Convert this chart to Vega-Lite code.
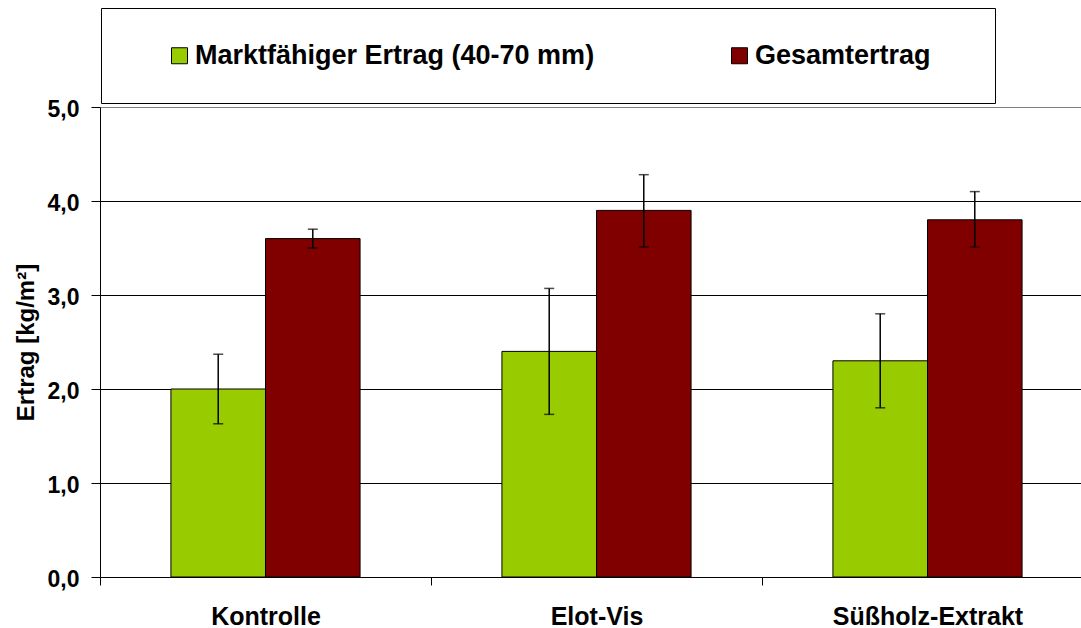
{
  "$schema": "https://vega.github.io/schema/vega-lite/v6.json",
  "width": 981,
  "height": 470,
  "autosize": {"type": "none"},
  "padding": {"left": 100, "top": 107, "right": 0, "bottom": 51},
  "background": "white",
  "config": {
    "font": "Liberation Sans",
    "view": {"stroke": null},
    "legend": {
      "orient": "none",
      "legendX": 1,
      "legendY": -99,
      "direction": "horizontal",
      "titleOrient": "right",
      "titlePadding": 29.5,
      "titleFontSize": 27,
      "padding": 34,
      "strokeColor": "black",
      "strokeWidth": 1,
      "fillColor": "white",
      "symbolType": "square",
      "symbolSize": 256,
      "symbolStrokeColor": "black",
      "symbolStrokeWidth": 1,
      "symbolOffset": 31,
      "labelFont": "Liberation Sans",
      "labelFontWeight": "bold",
      "labelFontSize": 27,
      "labelColor": "black",
      "labelOffset": 2,
      "columnPadding": 100,
      "labelLimit": 700,
      "symbolOpacity": 1
    }
  },
  "data": {
    "values": [
      {"cat": "Kontrolle", "series": "Marktfähiger Ertrag (40-70 mm)", "value": 2.0, "lo": 1.63, "hi": 2.37},
      {"cat": "Kontrolle", "series": "Gesamtertrag", "value": 3.6, "lo": 3.50, "hi": 3.70},
      {"cat": "Elot-Vis", "series": "Marktfähiger Ertrag (40-70 mm)", "value": 2.4, "lo": 1.73, "hi": 3.07},
      {"cat": "Elot-Vis", "series": "Gesamtertrag", "value": 3.9, "lo": 3.51, "hi": 4.28},
      {"cat": "Süßholz-Extrakt", "series": "Marktfähiger Ertrag (40-70 mm)", "value": 2.3, "lo": 1.80, "hi": 2.80},
      {"cat": "Süßholz-Extrakt", "series": "Gesamtertrag", "value": 3.8, "lo": 3.51, "hi": 4.10}
    ]
  },
  "encoding": {
    "x": {
      "field": "cat",
      "type": "nominal",
      "sort": ["Kontrolle", "Elot-Vis", "Süßholz-Extrakt"],
      "scale": {"range": [0, 993], "paddingInner": 0, "paddingOuter": 0},
      "axis": {
        "title": null,
        "tickBand": "extent",
        "tickSize": 8,
        "tickColor": "black",
        "domainColor": "black",
        "labelFontSize": 25,
        "labelFontWeight": "bold",
        "labelColor": "black",
        "labelPadding": 19,
        "labelLimit": 500,
        "labelAngle": 0,
        "grid": false
      }
    },
    "xOffset": {
      "field": "series",
      "type": "nominal",
      "sort": ["Marktfähiger Ertrag (40-70 mm)", "Gesamtertrag"],
      "scale": {"paddingInner": 0, "paddingOuter": 0.75}
    }
  },
  "layer": [
    {
      "mark": {"type": "bar", "stroke": "black", "strokeWidth": 1},
      "encoding": {
        "y": {
          "field": "value",
          "type": "quantitative",
          "scale": {"domain": [0, 5], "nice": false, "zero": true},
          "axis": {
            "values": [0, 1, 2, 3, 4, 5],
            "labelExpr": "replace(format(datum.value, '.1f'), '.', ',')",
            "labelFontSize": 23,
            "labelFontWeight": "bold",
            "labelColor": "black",
            "labelPadding": 12,
            "labelOffset": 2,
            "tickSize": 9,
            "tickColor": "black",
            "domainColor": "black",
            "grid": true,
            "gridColor": {"condition": {"test": "datum.value == 5", "value": "#808080"}, "value": "#000000"},
            "title": "Ertrag [kg/m²]",
            "titleFontSize": 24,
            "titleFontWeight": "bold",
            "titleColor": "black",
            "titlePadding": 9
          }
        },
        "color": {
          "field": "series",
          "type": "nominal",
          "sort": ["Marktfähiger Ertrag (40-70 mm)", "Gesamtertrag"],
          "scale": {"domain": ["Marktfähiger Ertrag (40-70 mm)", "Gesamtertrag"], "range": ["#99CC00", "#800000"]},
          "legend": {"title": " "}
        }
      }
    },
    {
      "mark": {"type": "rule", "strokeWidth": 1.5, "color": "black"},
      "encoding": {
        "y": {"field": "lo", "type": "quantitative", "title": "Ertrag [kg/m²]"},
        "y2": {"field": "hi"}
      }
    },
    {
      "mark": {"type": "tick", "orient": "horizontal", "size": 10, "thickness": 1.5, "color": "black"},
      "encoding": {"y": {"field": "lo", "type": "quantitative", "title": "Ertrag [kg/m²]"}}
    },
    {
      "mark": {"type": "tick", "orient": "horizontal", "size": 10, "thickness": 1.5, "color": "black"},
      "encoding": {"y": {"field": "hi", "type": "quantitative", "title": "Ertrag [kg/m²]"}}
    }
  ]
}
